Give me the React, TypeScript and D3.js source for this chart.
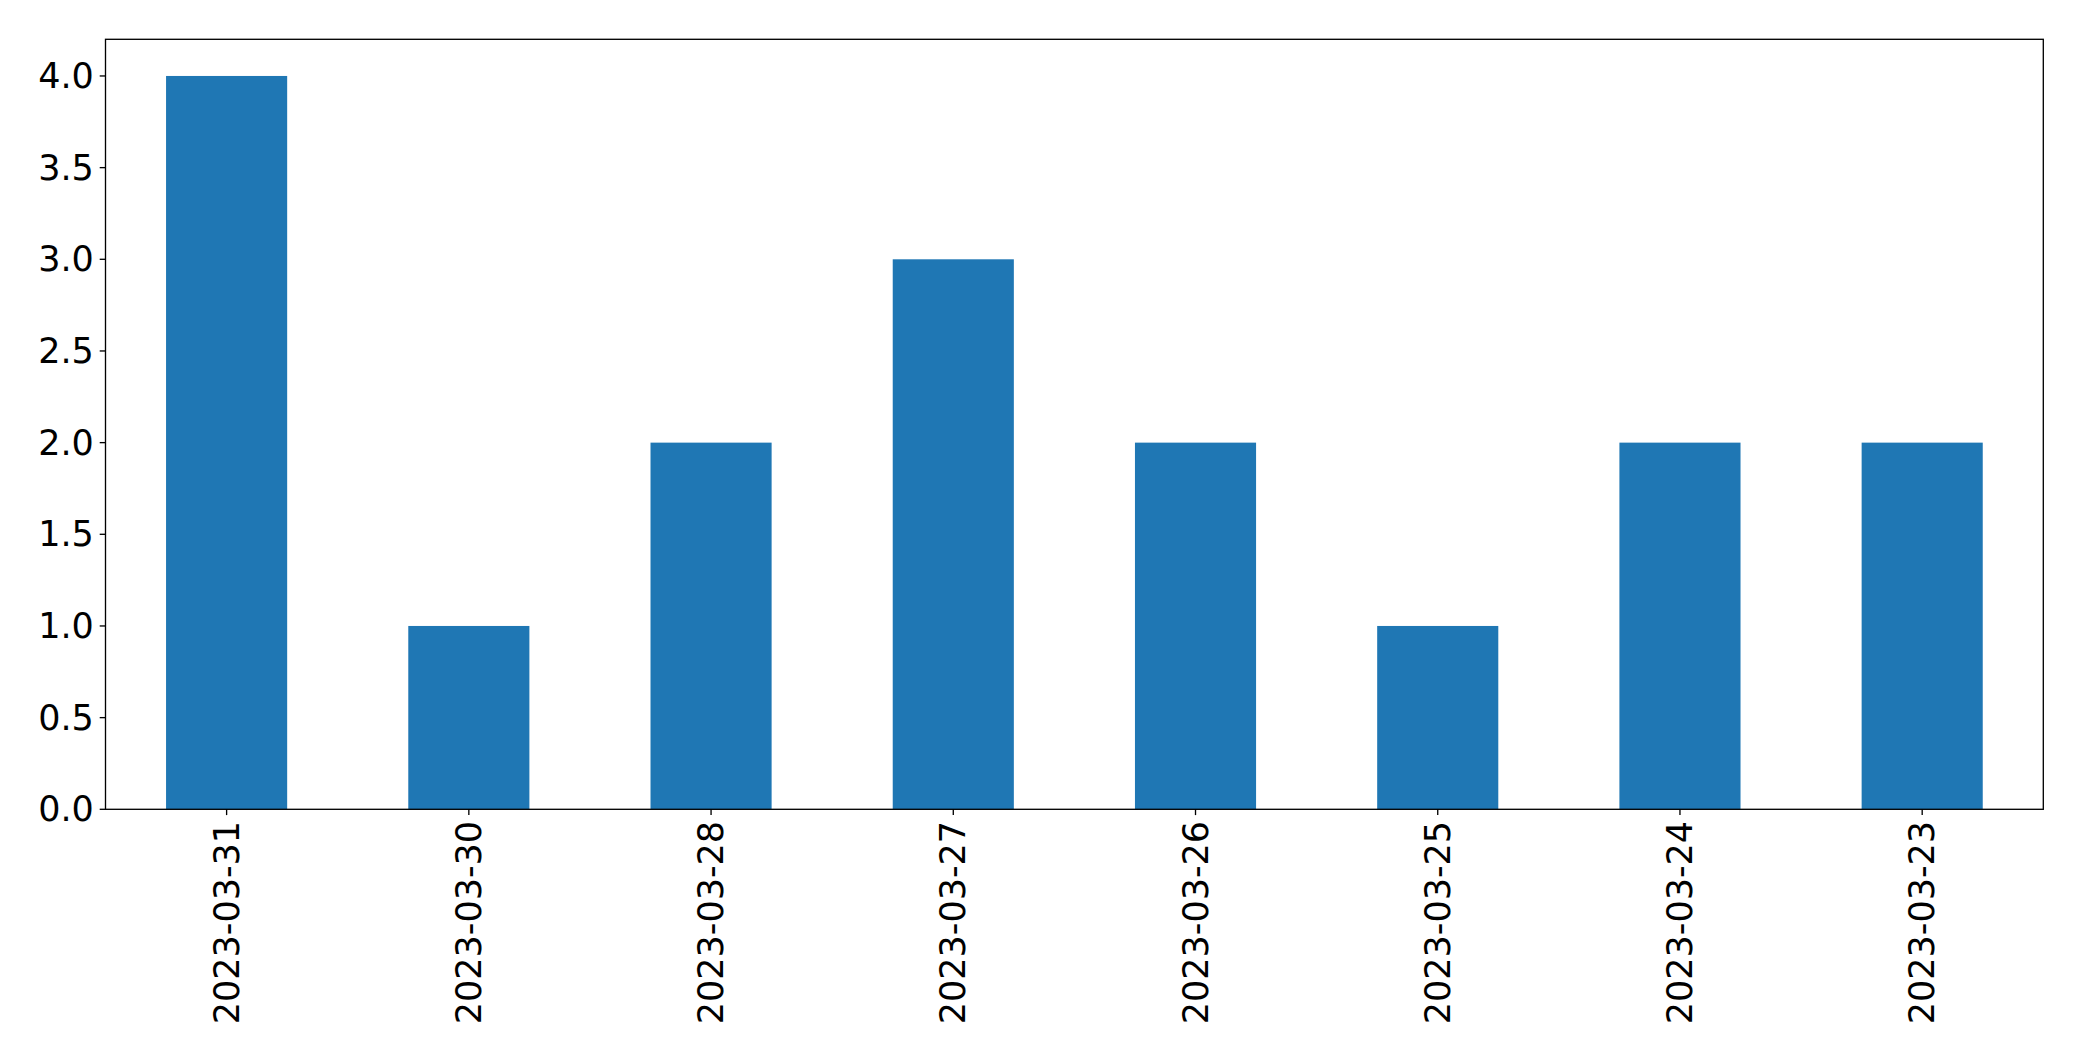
import React from "react";
import * as d3 from "d3";

const categories: string[] = [
  "2023-03-31",
  "2023-03-30",
  "2023-03-28",
  "2023-03-27",
  "2023-03-26",
  "2023-03-25",
  "2023-03-24",
  "2023-03-23",
];
const values: number[] = [4, 1, 2, 3, 2, 1, 2, 2];
const yTicks: number[] = [0, 0.5, 1, 1.5, 2, 2.5, 3, 3.5, 4];

const W = 2082;
const H = 1061;
const left = 105.5;
const right = 2043.3;
const top = 39.3;
const bottom = 809.3;
const FONT = "'DejaVu Sans', sans-serif";
const FS = 35;

export default function App() {
  const x = d3
    .scaleLinear()
    .domain([-0.5, categories.length - 0.5])
    .range([left, right]);
  const y = d3.scaleLinear().domain([0, 4.2]).range([bottom, top]);
  const bw = x(0.25) - x(-0.25);

  return (
    <svg
      width={W}
      height={H}
      style={{ position: "absolute", left: 0, top: 0, background: "#fff" }}
    >
      <rect x={0} y={0} width={W} height={H} fill="#fff" />
      {values.map((v, i) => (
        <rect
          key={i}
          x={x(i) - bw / 2}
          y={y(v)}
          width={bw}
          height={y(0) - y(v)}
          fill="#1f77b4"
        />
      ))}
      <rect
        x={left}
        y={top}
        width={right - left}
        height={bottom - top}
        fill="none"
        stroke="#000"
        strokeWidth={1.33}
      />
      {yTicks.map((t) => (
        <g key={t}>
          <line
            x1={left - 5.8}
            x2={left}
            y1={y(t)}
            y2={y(t)}
            stroke="#000"
            strokeWidth={1.33}
          />
          <text
            x={left - 11.6}
            y={y(t)}
            textAnchor="end"
            dominantBaseline="central"
            fontFamily={FONT}
            fontSize={FS}
            fill="#000"
          >
            {t.toFixed(1)}
          </text>
        </g>
      ))}
      {categories.map((c, i) => (
        <g key={c}>
          <line
            x1={x(i)}
            x2={x(i)}
            y1={bottom}
            y2={bottom + 5.8}
            stroke="#000"
            strokeWidth={1.33}
          />
          <text
            transform={`translate(${x(i)},${bottom + 11.6}) rotate(-90)`}
            textAnchor="end"
            dominantBaseline="central"
            fontFamily={FONT}
            fontSize={FS}
            fill="#000"
          >
            {c}
          </text>
        </g>
      ))}
    </svg>
  );
}
